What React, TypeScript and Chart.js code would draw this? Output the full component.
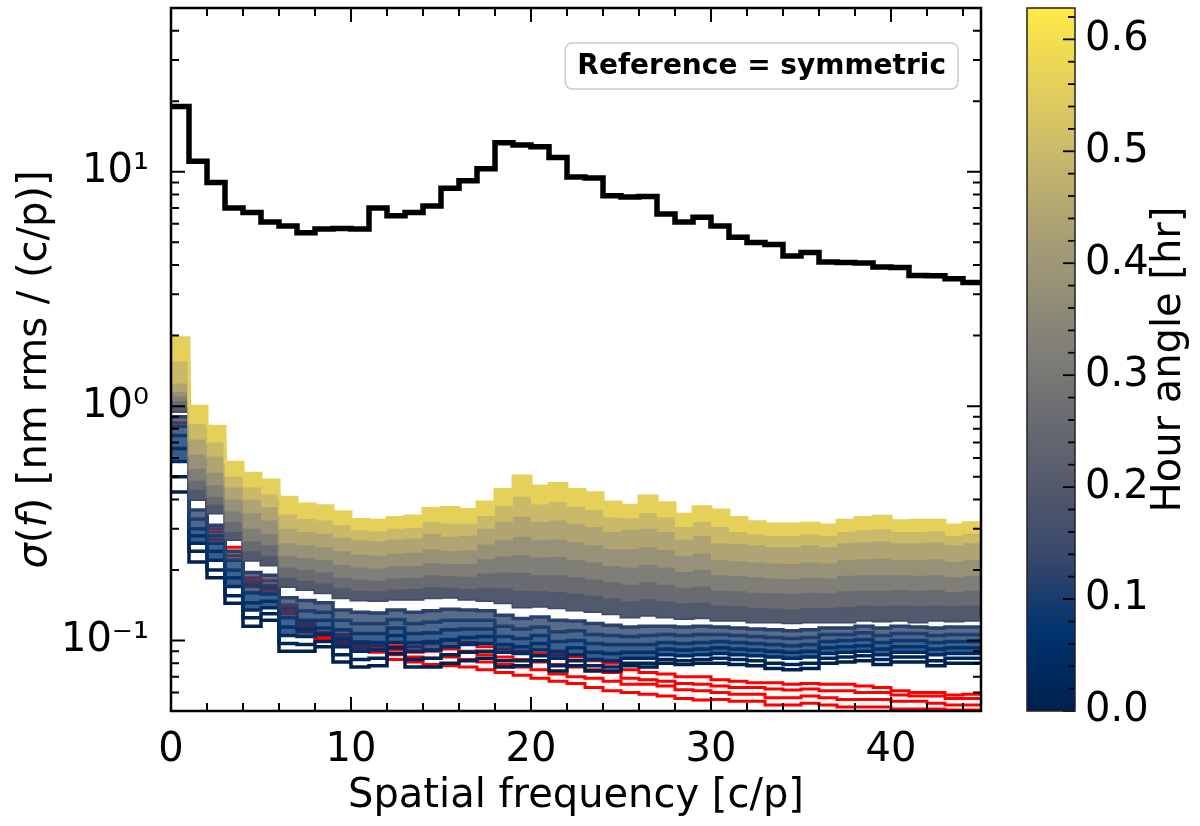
import React, { useEffect, useRef } from "react";
import { Chart, registerables } from "chart.js";

Chart.register(...registerables);

// ---------- data ----------
const freqEdges = [0, 1, 2, 3, 4, 5, 6, 7, 8, 9, 10, 11, 12, 13, 14, 15, 16, 17, 18, 19, 20, 21, 22, 23, 24, 25, 26, 27, 28, 29, 30, 31, 32, 33, 34, 35, 36, 37, 38, 39, 40, 41, 42, 43, 44, 45];

const xTickValues = [0, 10, 20, 30, 40];
const xTickLabels = ["0", "10", "20", "30", "40"];
const yTickValues = [0.1, 1, 10];
const yTickLabels = ["10\u207B\u00B9", "10\u2070", "10\u00B9"];
const cbTickValues = [0, 0.1, 0.2, 0.3, 0.4, 0.5, 0.6];
const cbTickLabels = ["0.0", "0.1", "0.2", "0.3", "0.4", "0.5", "0.6"];
const cbMax = 0.628;

const legendLabel = "Reference = symmetric";
const xTitle = "Spatial frequency [c/p]";
const cbTitle = "Hour angle [hr]";

// black reference curve
const refSymmetric = [19, 11.1, 9.0, 7.0, 6.7, 6.1, 5.87, 5.5, 5.7, 5.73, 5.7, 7.0, 6.5, 6.7, 7.15, 8.5, 9.15, 10.3, 13.3, 13.0, 12.8, 11.5, 9.5, 9.4, 7.9, 7.8, 7.85, 6.6, 6.1, 6.4, 5.87, 5.25, 4.99, 4.9, 4.37, 4.52, 4.12, 4.1, 4.08, 3.92, 3.9, 3.61, 3.6, 3.5, 3.37];

// hour-angle coloured curves (upper band: filled between neighbours)
const ha056 = [1.96, 1.0, 0.82, 0.576, 0.517, 0.484, 0.408, 0.382, 0.376, 0.354, 0.328, 0.326, 0.335, 0.34, 0.366, 0.369, 0.362, 0.39, 0.441, 0.503, 0.456, 0.468, 0.441, 0.427, 0.39, 0.378, 0.413, 0.387, 0.346, 0.372, 0.36, 0.335, 0.321, 0.314, 0.314, 0.316, 0.311, 0.326, 0.335, 0.339, 0.324, 0.326, 0.326, 0.311, 0.318];
const ha050 = [1.55, 0.84, 0.7, 0.5, 0.45, 0.42, 0.345, 0.33, 0.325, 0.31, 0.295, 0.292, 0.3, 0.303, 0.32, 0.315, 0.315, 0.34, 0.375, 0.41, 0.38, 0.39, 0.372, 0.36, 0.335, 0.332, 0.35, 0.335, 0.305, 0.32, 0.305, 0.29, 0.283, 0.28, 0.28, 0.283, 0.28, 0.29, 0.295, 0.298, 0.29, 0.29, 0.292, 0.28, 0.285];
const ha044 = [1.25, 0.72, 0.61, 0.45, 0.4, 0.37, 0.3, 0.29, 0.285, 0.275, 0.268, 0.265, 0.27, 0.272, 0.285, 0.277, 0.28, 0.3, 0.32, 0.337, 0.32, 0.325, 0.315, 0.305, 0.29, 0.296, 0.3, 0.29, 0.27, 0.28, 0.26, 0.258, 0.255, 0.25, 0.25, 0.255, 0.25, 0.26, 0.262, 0.265, 0.26, 0.26, 0.262, 0.255, 0.26];
const ha038 = [1.15, 0.62, 0.52, 0.4, 0.35, 0.325, 0.26, 0.255, 0.25, 0.24, 0.232, 0.23, 0.235, 0.237, 0.245, 0.24, 0.242, 0.257, 0.268, 0.277, 0.268, 0.27, 0.262, 0.255, 0.245, 0.245, 0.25, 0.243, 0.229, 0.235, 0.22, 0.218, 0.215, 0.213, 0.212, 0.215, 0.213, 0.22, 0.222, 0.223, 0.22, 0.22, 0.222, 0.216, 0.22];
const ha032 = [1.1, 0.54, 0.46, 0.355, 0.3, 0.285, 0.23, 0.225, 0.22, 0.21, 0.205, 0.203, 0.207, 0.208, 0.214, 0.212, 0.212, 0.222, 0.228, 0.231, 0.226, 0.227, 0.22, 0.215, 0.208, 0.205, 0.21, 0.205, 0.196, 0.2, 0.19, 0.188, 0.186, 0.184, 0.183, 0.185, 0.184, 0.189, 0.19, 0.19, 0.19, 0.189, 0.19, 0.186, 0.189];
const ha026 = [1.05, 0.48, 0.41, 0.32, 0.265, 0.255, 0.205, 0.2, 0.195, 0.185, 0.182, 0.18, 0.184, 0.185, 0.19, 0.188, 0.187, 0.193, 0.195, 0.194, 0.19, 0.19, 0.186, 0.182, 0.177, 0.173, 0.177, 0.173, 0.168, 0.17, 0.163, 0.162, 0.16, 0.159, 0.158, 0.16, 0.159, 0.162, 0.163, 0.163, 0.164, 0.163, 0.164, 0.161, 0.163];
const ha020 = [1.0, 0.44, 0.38, 0.29, 0.24, 0.23, 0.185, 0.18, 0.175, 0.167, 0.163, 0.162, 0.165, 0.166, 0.169, 0.168, 0.166, 0.168, 0.167, 0.163, 0.162, 0.161, 0.158, 0.155, 0.151, 0.147, 0.15, 0.147, 0.144, 0.145, 0.141, 0.14, 0.138, 0.137, 0.136, 0.138, 0.138, 0.139, 0.141, 0.14, 0.141, 0.14, 0.141, 0.14, 0.141];
const ha015 = [0.95, 0.4, 0.35, 0.27, 0.22, 0.21, 0.17, 0.165, 0.16, 0.152, 0.149, 0.148, 0.15, 0.15, 0.152, 0.153, 0.15, 0.148, 0.145, 0.139, 0.14, 0.138, 0.135, 0.133, 0.13, 0.126, 0.128, 0.126, 0.124, 0.125, 0.122, 0.122, 0.12, 0.12, 0.119, 0.12, 0.12, 0.12, 0.122, 0.121, 0.122, 0.12, 0.122, 0.121, 0.122];
// low hour-angle curves (dark blue lines)
const ha012 = [0.9, 0.36, 0.31, 0.24, 0.195, 0.19, 0.152, 0.148, 0.145, 0.135, 0.132, 0.131, 0.135, 0.132, 0.134, 0.136, 0.135, 0.134, 0.128, 0.124, 0.126, 0.122, 0.121, 0.118, 0.116, 0.114, 0.115, 0.115, 0.114, 0.115, 0.114, 0.113, 0.112, 0.111, 0.11, 0.111, 0.113, 0.113, 0.115, 0.113, 0.115, 0.114, 0.113, 0.114, 0.114];
const ha010 = [0.82, 0.33, 0.28, 0.22, 0.175, 0.17, 0.138, 0.134, 0.132, 0.122, 0.118, 0.118, 0.123, 0.118, 0.12, 0.122, 0.122, 0.122, 0.115, 0.112, 0.114, 0.109, 0.11, 0.106, 0.105, 0.104, 0.105, 0.106, 0.105, 0.106, 0.106, 0.105, 0.104, 0.103, 0.102, 0.103, 0.106, 0.106, 0.108, 0.105, 0.107, 0.107, 0.105, 0.106, 0.106];
const ha008 = [0.75, 0.3, 0.26, 0.2, 0.16, 0.158, 0.125, 0.122, 0.122, 0.111, 0.107, 0.107, 0.113, 0.107, 0.108, 0.111, 0.112, 0.112, 0.104, 0.102, 0.105, 0.099, 0.1, 0.097, 0.096, 0.096, 0.096, 0.098, 0.097, 0.098, 0.099, 0.098, 0.097, 0.096, 0.095, 0.096, 0.099, 0.1, 0.101, 0.098, 0.1, 0.1, 0.098, 0.099, 0.099];
const ha006 = [0.66, 0.28, 0.24, 0.185, 0.145, 0.147, 0.114, 0.112, 0.113, 0.102, 0.098, 0.098, 0.105, 0.098, 0.099, 0.101, 0.103, 0.104, 0.096, 0.094, 0.097, 0.09, 0.093, 0.089, 0.088, 0.089, 0.089, 0.092, 0.091, 0.092, 0.093, 0.092, 0.091, 0.09, 0.089, 0.09, 0.093, 0.094, 0.095, 0.092, 0.094, 0.094, 0.092, 0.093, 0.093];
const ha004 = [0.58, 0.26, 0.22, 0.17, 0.135, 0.138, 0.105, 0.104, 0.106, 0.094, 0.09, 0.091, 0.098, 0.09, 0.091, 0.094, 0.096, 0.097, 0.089, 0.088, 0.091, 0.084, 0.087, 0.083, 0.082, 0.084, 0.084, 0.087, 0.086, 0.087, 0.088, 0.087, 0.086, 0.085, 0.084, 0.085, 0.088, 0.089, 0.09, 0.087, 0.089, 0.089, 0.087, 0.088, 0.088];
const ha002 = [0.5, 0.24, 0.2, 0.155, 0.125, 0.13, 0.097, 0.096, 0.099, 0.087, 0.083, 0.084, 0.093, 0.083, 0.084, 0.087, 0.089, 0.09, 0.082, 0.082, 0.086, 0.078, 0.082, 0.078, 0.077, 0.08, 0.08, 0.083, 0.082, 0.083, 0.084, 0.083, 0.082, 0.08, 0.079, 0.08, 0.084, 0.085, 0.086, 0.083, 0.085, 0.085, 0.082, 0.084, 0.084];
const ha000 = [0.43, 0.216, 0.185, 0.144, 0.115, 0.122, 0.09, 0.09, 0.094, 0.081, 0.077, 0.078, 0.088, 0.077, 0.077, 0.08, 0.082, 0.084, 0.077, 0.078, 0.082, 0.074, 0.078, 0.074, 0.074, 0.078, 0.077, 0.08, 0.079, 0.08, 0.08, 0.079, 0.078, 0.076, 0.075, 0.076, 0.08, 0.081, 0.082, 0.079, 0.081, 0.081, 0.078, 0.08, 0.08];

const bandSeries = [ha056, ha050, ha044, ha038, ha032, ha026, ha020, ha015];
const bandHours = [0.56, 0.5, 0.44, 0.38, 0.32, 0.26, 0.2, 0.15];
const lowSeries = [ha012, ha010, ha008, ha006, ha004, ha002, ha000];
const lowHours = [0.12, 0.1, 0.08, 0.06, 0.04, 0.02, 0.0];

// red curves
const red1 = [1.0, 0.47, 0.3, 0.25, 0.185, 0.18, 0.142, 0.118, 0.108, 0.106, 0.099, 0.098, 0.095, 0.094, 0.097, 0.1, 0.098, 0.094, 0.092, 0.09, 0.088, 0.087, 0.085, 0.082, 0.08, 0.075, 0.073, 0.072, 0.07, 0.07, 0.068, 0.067, 0.066, 0.066, 0.065, 0.0655, 0.065, 0.065, 0.064, 0.063, 0.061, 0.06, 0.06, 0.0585, 0.059];
const red2 = [0.95, 0.45, 0.29, 0.24, 0.18, 0.172, 0.138, 0.115, 0.105, 0.103, 0.096, 0.095, 0.091, 0.089, 0.09, 0.092, 0.09, 0.087, 0.085, 0.083, 0.081, 0.079, 0.077, 0.075, 0.073, 0.069, 0.068, 0.067, 0.0655, 0.065, 0.064, 0.063, 0.063, 0.062, 0.0615, 0.062, 0.061, 0.061, 0.06, 0.06, 0.0585, 0.058, 0.058, 0.0565, 0.0565];
const red3 = [0.9, 0.43, 0.28, 0.23, 0.175, 0.165, 0.134, 0.112, 0.102, 0.1, 0.093, 0.092, 0.087, 0.085, 0.084, 0.085, 0.083, 0.081, 0.079, 0.077, 0.075, 0.072, 0.07, 0.069, 0.067, 0.065, 0.065, 0.064, 0.0616, 0.061, 0.06, 0.059, 0.059, 0.057, 0.057, 0.058, 0.057, 0.056, 0.056, 0.056, 0.055, 0.055, 0.054, 0.053, 0.053];
const red4 = [0.85, 0.41, 0.27, 0.22, 0.17, 0.16, 0.13, 0.109, 0.099, 0.097, 0.09, 0.089, 0.083, 0.081, 0.079, 0.078, 0.077, 0.075, 0.073, 0.071, 0.069, 0.067, 0.0655, 0.063, 0.061, 0.06, 0.059, 0.058, 0.0565, 0.0557, 0.056, 0.055, 0.055, 0.053, 0.053, 0.054, 0.053, 0.052, 0.052, 0.052, 0.051, 0.051, 0.051, 0.0505, 0.0505];
const redSeries = [red1, red2, red3, red4];

// ---------- styling helpers ----------
const FONT = "'DejaVu Sans', 'Noto Sans', sans-serif";
const cividisStops = ["#00204d", "#00336f", "#39486b", "#575c6d", "#707173", "#8a8779", "#a69d75", "#c4b56c", "#e4cf5b", "#ffea46"];

function hexToRgb(h: string) {
  const n = parseInt(h.slice(1), 16);
  return [(n >> 16) & 255, (n >> 8) & 255, n & 255];
}
function cividis(t: number, alpha = 1) {
  const c = Math.max(0, Math.min(1, t)) * (cividisStops.length - 1);
  const i = Math.min(Math.floor(c), cividisStops.length - 2);
  const f = c - i;
  const a = hexToRgb(cividisStops[i]);
  const b = hexToRgb(cividisStops[i + 1]);
  const m = a.map((v, k) => Math.round(v + (b[k] - v) * f));
  return `rgba(${m[0]},${m[1]},${m[2]},${alpha})`;
}

const toSteps = (vals: number[]) =>
  freqEdges.map((x, i) => ({ x, y: vals[Math.min(i, vals.length - 1)] }));

const noPad = (s: any) => {
  s.paddingTop = 0;
  s.paddingBottom = 0;
  s.paddingLeft = 0;
  s.paddingRight = 0;
};

const framePlugin = {
  id: "framePlugin",
  afterDraw(chart: any) {
    const { ctx, chartArea: a, scales } = chart;
    const xs = scales.x;
    const ys = scales.y;
    ctx.save();
    ctx.strokeStyle = "#000";
    const drawX = (v: number, len: number) => {
      const px = xs.getPixelForValue(v);
      ctx.beginPath();
      ctx.moveTo(px, a.bottom);
      ctx.lineTo(px, a.bottom - len);
      ctx.moveTo(px, a.top);
      ctx.lineTo(px, a.top + len);
      ctx.stroke();
    };
    const drawY = (v: number, len: number) => {
      const py = ys.getPixelForValue(v);
      ctx.beginPath();
      ctx.moveTo(a.left, py);
      ctx.lineTo(a.left + len, py);
      ctx.moveTo(a.right, py);
      ctx.lineTo(a.right - len, py);
      ctx.stroke();
    };
    ctx.lineWidth = 2;
    for (let v = 2; v < 45; v += 2) if (v % 10 !== 0) drawX(v, 8);
    xTickValues.forEach((v) => drawX(v, 14));
    for (let k = -2; k <= 1; k++) {
      for (let m = 2; m <= 9; m++) {
        const v = m * Math.pow(10, k);
        if (v > ys.min && v < ys.max) drawY(v, 8);
      }
    }
    yTickValues.forEach((v) => drawY(v, 14));
    ctx.lineWidth = 2.5;
    ctx.strokeRect(a.left, a.top, a.right - a.left, a.bottom - a.top);

    // legend box
    ctx.font = `bold 28px ${FONT}`;
    const tw = ctx.measureText(legendLabel).width;
    const bw = tw + 24;
    const bh = 46;
    const bx = a.right - 23 - bw;
    const by = a.top + 35;
    ctx.beginPath();
    ctx.roundRect(bx, by, bw, bh, 7);
    ctx.fillStyle = "rgba(255,255,255,0.85)";
    ctx.fill();
    ctx.strokeStyle = "#cccccc";
    ctx.lineWidth = 1.5;
    ctx.stroke();
    ctx.fillStyle = "#000";
    ctx.textAlign = "center";
    ctx.textBaseline = "middle";
    ctx.fillText(legendLabel, bx + bw / 2, by + bh / 2 + 1);

    // y-axis title with italic symbols
    const parts: [string, boolean][] = [
      ["\u03C3", true],
      ["(", false],
      ["f", true],
      [") [nm rms / (c/p)]", false],
    ];
    const fontFor = (it: boolean) => `${it ? "italic " : ""}40px ${FONT}`;
    let total = 0;
    parts.forEach(([t, it]) => {
      ctx.font = fontFor(it);
      total += ctx.measureText(t).width;
    });
    ctx.translate(36, (a.top + a.bottom) / 2 + 10);
    ctx.rotate(-Math.PI / 2);
    ctx.textAlign = "left";
    ctx.textBaseline = "middle";
    let cx = -total / 2;
    parts.forEach(([t, it]) => {
      ctx.font = fontFor(it);
      ctx.fillText(t, cx, 0);
      cx += ctx.measureText(t).width;
    });
    ctx.restore();
  },
};

const colorbarPlugin = {
  id: "colorbarPlugin",
  beforeDatasetsDraw(chart: any) {
    const { ctx, chartArea: a } = chart;
    const g = ctx.createLinearGradient(0, a.bottom, 0, a.top);
    cividisStops.forEach((c, i) => g.addColorStop(i / (cividisStops.length - 1), c));
    ctx.save();
    ctx.fillStyle = g;
    ctx.fillRect(a.left, a.top, a.right - a.left, a.bottom - a.top);
    ctx.restore();
  },
  afterDraw(chart: any) {
    const { ctx, chartArea: a, scales } = chart;
    const ys = scales.y;
    ctx.save();
    ctx.strokeStyle = "#000";
    ctx.lineWidth = 1.8;
    for (let i = 1; i * 0.02 < cbMax; i++) {
      if (i % 5 === 0) continue;
      const py = ys.getPixelForValue(i * 0.02);
      ctx.beginPath();
      ctx.moveTo(a.right, py);
      ctx.lineTo(a.right - 7, py);
      ctx.stroke();
    }
    cbTickValues.forEach((v) => {
      const py = ys.getPixelForValue(v);
      ctx.beginPath();
      ctx.moveTo(a.right, py);
      ctx.lineTo(a.right - 12, py);
      ctx.stroke();
    });
    ctx.strokeStyle = "#222";
    ctx.lineWidth = 1.5;
    ctx.strokeRect(a.left, a.top, a.right - a.left, a.bottom - a.top);
    ctx.fillStyle = "#000";
    ctx.font = `40px ${FONT}`;
    ctx.translate(170, (a.top + a.bottom) / 2);
    ctx.rotate(-Math.PI / 2);
    ctx.textAlign = "center";
    ctx.textBaseline = "middle";
    ctx.fillText(cbTitle, 0, 0);
    ctx.restore();
  },
};

export default function App() {
  const mainRef = useRef<HTMLCanvasElement | null>(null);
  const cbRef = useRef<HTMLCanvasElement | null>(null);

  useEffect(() => {
    if (!mainRef.current || !cbRef.current) return;
    const tickFont = { family: FONT, size: 40 };
    const datasets: any[] = [];

    datasets.push({
      label: "Reference",
      data: toSteps(refSymmetric),
      borderColor: "#000",
      borderWidth: 5.5,
      stepped: true,
      pointRadius: 0,
      fill: false,
      order: 0,
      clip: 0,
    });
    bandSeries.forEach((s, i) => {
      const t = bandHours[i] / cbMax;
      datasets.push({
        label: `HA ${bandHours[i]}`,
        data: toSteps(s),
        borderColor: cividis(t),
        backgroundColor: cividis(t),
        borderWidth: 3,
        stepped: true,
        pointRadius: 0,
        fill: i < bandSeries.length - 1 ? "+1" : false,
        order: 1 + i,
        clip: 0,
      });
    });
    lowSeries.forEach((s, i) => {
      const t = lowHours[i] / cbMax;
      datasets.push({
        label: `HA ${lowHours[i]}`,
        data: toSteps(s),
        borderColor: cividis(t),
        backgroundColor: cividis(t, 0.78),
        borderWidth: 3.5,
        stepped: true,
        pointRadius: 0,
        fill: i < 4 ? "+1" : false,
        order: 10 + i,
        clip: 0,
      });
    });
    redSeries.forEach((s, i) => {
      datasets.push({
        label: `red ${i}`,
        data: toSteps(s),
        borderColor: "#ff0000",
        borderWidth: 3,
        stepped: true,
        pointRadius: 0,
        fill: false,
        order: 30 + i,
        clip: 0,
      });
    });

    const main = new Chart(mainRef.current, {
      type: "line",
      data: { datasets },
      options: {
        responsive: false,
        animation: false,
        devicePixelRatio: 1,
        layout: { padding: { left: 0, right: 19, top: 8, bottom: 0 } },
        plugins: { legend: { display: false }, tooltip: { enabled: false } },
        elements: { line: { borderJoinStyle: "miter", borderCapStyle: "butt", tension: 0 } },
        scales: {
          x: {
            type: "linear",
            min: 0,
            max: 45,
            afterBuildTicks: (s: any) => {
              s.ticks = xTickValues.map((v) => ({ value: v }));
            },
            afterFit: (s: any) => {
              s.height = 115;
              noPad(s);
            },
            ticks: {
              font: tickFont,
              color: "#000",
              padding: 16,
              maxRotation: 0,
              autoSkip: false,
              callback: (_v: any, i: number) => xTickLabels[i],
            },
            grid: { display: false, drawTicks: false },
            border: { display: false },
            title: {
              display: true,
              text: xTitle,
              color: "#000",
              font: { family: FONT, size: 40 },
              padding: { top: 0, bottom: 5 },
            },
          },
          y: {
            type: "logarithmic",
            min: 0.05,
            max: 50,
            afterBuildTicks: (s: any) => {
              s.ticks = yTickValues.map((v) => ({ value: v }));
            },
            afterFit: (s: any) => {
              s.width = 171;
              noPad(s);
            },
            ticks: {
              font: tickFont,
              color: "#000",
              padding: 22,
              autoSkip: false,
              callback: (_v: any, i: number) => yTickLabels[i],
            },
            grid: { display: false, drawTicks: false },
            border: { display: false },
          },
        },
      },
      plugins: [framePlugin],
    } as any);

    const cb = new Chart(cbRef.current, {
      type: "scatter",
      data: { datasets: [] },
      options: {
        responsive: false,
        animation: false,
        devicePixelRatio: 1,
        layout: { padding: { left: 27, right: 0, top: 8, bottom: 115 } },
        plugins: { legend: { display: false }, tooltip: { enabled: false } },
        scales: {
          x: { display: false, min: 0, max: 1 },
          y: {
            position: "right",
            min: 0,
            max: cbMax,
            afterBuildTicks: (s: any) => {
              s.ticks = cbTickValues.map((v) => ({ value: v }));
            },
            afterFit: (s: any) => {
              s.width = 125;
              noPad(s);
            },
            ticks: {
              font: tickFont,
              color: "#000",
              padding: 10,
              autoSkip: false,
              callback: (_v: any, i: number) => cbTickLabels[i],
            },
            grid: { display: false, drawTicks: false },
            border: { display: false },
          },
        },
      },
      plugins: [colorbarPlugin],
    } as any);

    return () => {
      main.destroy();
      cb.destroy();
    };
  }, []);

  return (
    <div style={{ position: "absolute", left: 0, top: 0, width: 1200, height: 826, background: "#fff" }}>
      <canvas ref={mainRef} width={1000} height={826} style={{ position: "absolute", left: 0, top: 0, width: 1000, height: 826 }} />
      <canvas ref={cbRef} width={200} height={826} style={{ position: "absolute", left: 1000, top: 0, width: 200, height: 826 }} />
    </div>
  );
}
